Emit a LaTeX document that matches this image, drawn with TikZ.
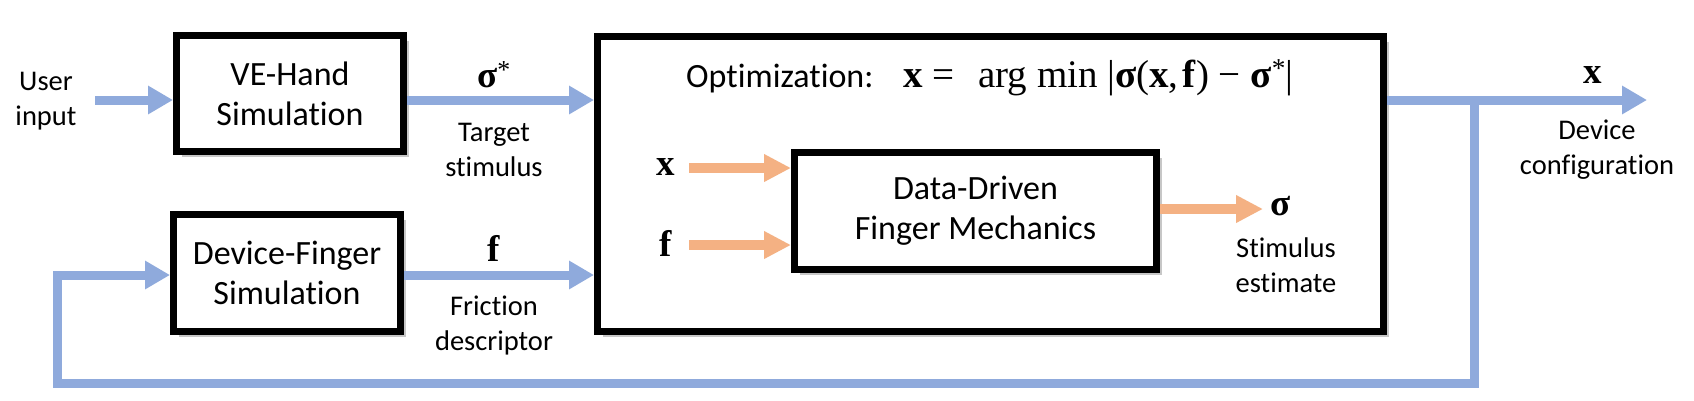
\documentclass[tikz,border=0pt]{standalone}
\usepackage{fontspec}
\setmainfont{Carlito}[Ligatures=NoCommon]
\newfontfamily\serifm{Liberation Serif}
\usetikzlibrary{arrows.meta,shadows}
\definecolor{lblue}{HTML}{8FAADC}
\definecolor{lorange}{HTML}{F4B183}
\tikzset{
  blk/.style={draw=black, line width=7pt, fill=white, inner sep=0pt, align=center,
    font=\fontsize{34}{40}\selectfont,
    drop shadow={shadow xshift=5pt, shadow yshift=-5pt, opacity=0.22, fill=black}},
  lbl/.style={align=center, font=\fontsize{28.5}{35}\selectfont, inner sep=0pt},
  mth/.style={font=\fontsize{37}{40}\selectfont\serifm\bfseries, inner sep=0pt},
  barrow/.style={draw=lblue, line width=9pt, -{Triangle[length=25pt,width=27pt]}},
  oarrow/.style={draw=lorange, line width=10pt, -{Triangle[length=27pt,width=26pt]}},
}
\begin{document}
\begin{tikzpicture}[x=1pt,y=-1pt]
\useasboundingbox[fill=white] (0,0) rectangle (1694,400);
% boxes
\node[blk, minimum width=786pt, minimum height=295pt] (opt) at (990.5,184) {};
\node[blk, minimum width=227pt, minimum height=116pt] (ve) at (290,93.5) {VE-Hand\\Simulation};
\node[blk, minimum width=227pt, minimum height=117pt] (df) at (287,273) {Device-Finger\\Simulation};
\node[blk, minimum width=362pt, minimum height=117pt] (ddm) at (975.5,211) {Data-Driven\\Finger Mechanics};
% formula
\node[anchor=base west, inner sep=0pt, font=\fontsize{34}{40}\selectfont] (optlab) at (686,87) {Optimization:};
\node[anchor=base west, inner sep=0pt, font=\fontsize{39}{40}\selectfont\serifm] (formula) at (903,87)
  {\textbf{x} =\hspace{14pt} arg min |\textbf{σ}(\textbf{x},\hspace{4pt}\textbf{f}) − \textbf{σ}\textsuperscript{*}|};
% coordinates
\coordinate (uin) at (95,100);
\coordinate (fin) at (0,275);
\coordinate (outend) at (1647,100);
\coordinate (br) at (1474,100);
\coordinate (bl) at (57,383);
\coordinate (xin) at (689,168);
\coordinate (fin2) at (689,245);
\coordinate (sout) at (1263,209);
% labels
\node[lbl] (ulabel) at (46,101) {User\\input};
\node[mth] (sstar) at (494,75) {σ\textsuperscript{\mdseries*}};
\node[lbl] (tstim) at (494,150) {Target\\stimulus};
\node[mth] (flab) at (494,248) {f};
\node[lbl] (fdesc) at (494,325) {Friction\\descriptor};
\node[mth] (xout) at (1593,75) {x};
\node[lbl] (dconf) at (1597,150) {Device\\configuration};
\node[mth] (xlab) at (666,167) {x};
\node[mth] (flab2) at (666,243) {f};
\node[mth] (slab) at (1281,206) {σ};
\node[lbl] (sest) at (1286,265) {Stimulus\\estimate};
% blue connectors
\draw[barrow] (uin) -- (uin -| ve.west);
\draw[barrow] (ve.east |- uin) -- (opt.west |- uin);
\draw[barrow] (df.east |- fin) -- (opt.west |- fin);
\draw[barrow] (opt.east |- uin) -- (outend);
\draw[barrow] (br) |- (bl) |- (df.west |- fin);
% orange connectors
\draw[oarrow] (xin) -- (xin -| ddm.west);
\draw[oarrow] (fin2) -- (fin2 -| ddm.west);
\draw[oarrow] (ddm.east |- sout) -- (sout);
\end{tikzpicture}
\end{document}
